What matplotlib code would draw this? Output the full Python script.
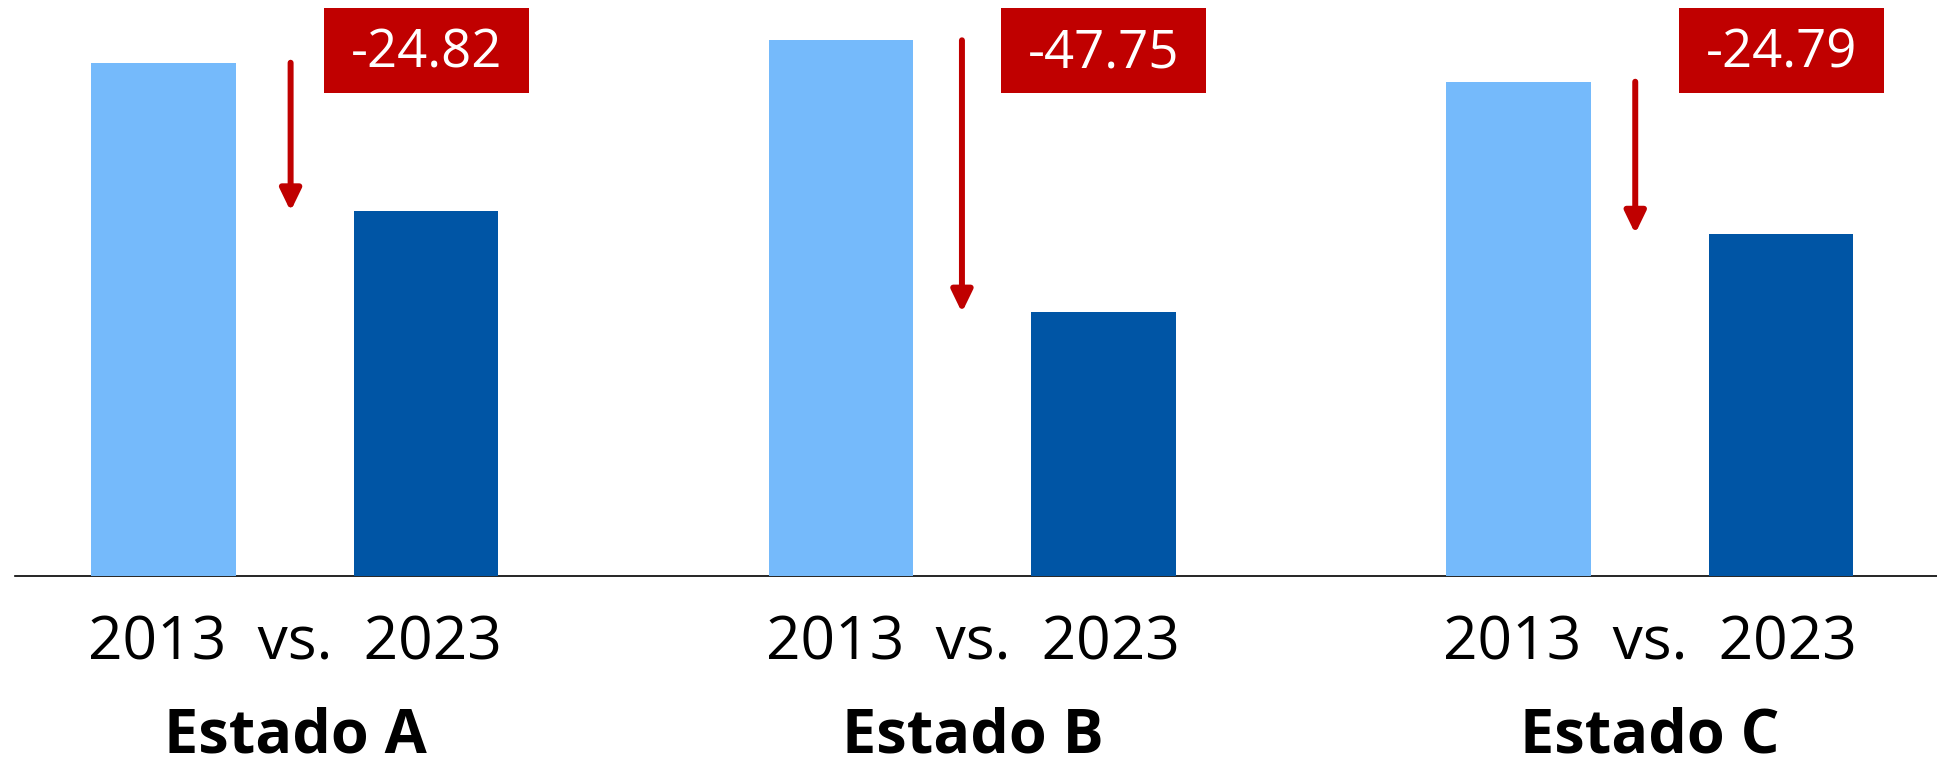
import numpy as np
import matplotlib.pyplot as plt
from matplotlib.patches import Rectangle, FancyArrowPatch

plt.rcParams['font.family'] = ['Open Sans', 'DejaVu Sans']

estados = ['Estado A', 'Estado B', 'Estado C']
valores_2013 = [89.1, 93.0, 85.8]
valores_2023 = [63.3, 45.7, 59.4]
cambios = ['-24.82', '-47.75', '-24.79']
etiqueta = '2013  vs.  2023'

azul_claro = '#75BAFB'
azul_oscuro = '#0055A5'
rojo = '#C00000'

fig = plt.figure(figsize=(19.37, 7.57), dpi=100)
ax = fig.add_axes([15 / 1937, 181.5 / 757, 1 - 15 / 1937, 575.5 / 757])

x = np.arange(len(estados))
off = 0.1937
ancho = 0.2133
# desplazamiento de cada flecha respecto al centro del grupo
flecha_dx = [-0.0064, -0.0155, -0.0217]

ax.bar(x - off, valores_2013, ancho, color=azul_claro, zorder=2)
ax.bar(x + off, valores_2023, ancho, color=azul_oscuro, zorder=2)

for i in range(len(estados)):
    # flecha de caida entre las dos barras
    xa = x[i] + flecha_dx[i]
    flecha = FancyArrowPatch((xa, valores_2013[i]), (xa, valores_2023[i]),
                             arrowstyle='-|>,head_length=13,head_width=6.3',
                             mutation_scale=1, color=rojo, lw=4.3,
                             shrinkA=0, shrinkB=0, zorder=3)
    ax.add_patch(flecha)

    # caja con el cambio
    xc = x[i] + off
    ax.add_patch(Rectangle((xc - 0.1515, 83.9), 0.303, 14.66,
                           facecolor=rojo, edgecolor='none', zorder=3,
                           clip_on=False))
    ax.text(xc, 88.2, cambios[i], color='white', fontsize=38,
            ha='center', va='baseline', zorder=4)

    ax.text(x[i], -0.1468, etiqueta, transform=ax.get_xaxis_transform(),
            fontsize=43.5, ha='center', va='baseline')
    ax.text(x[i], -0.3084, estados[i], transform=ax.get_xaxis_transform(),
            fontsize=44, fontweight='bold', ha='center', va='baseline')

ax.set_xlim(-0.4132, 2.4237)
ax.set_ylim(0, 100)
for s in ['top', 'right', 'left']:
    ax.spines[s].set_visible(False)
ax.spines['bottom'].set_linewidth(1.2)
ax.spines['bottom'].set_color('black')
ax.spines['bottom'].set_zorder(1)
ax.set_xticks([])
ax.set_yticks([])

plt.savefig('out.png', dpi=100)
